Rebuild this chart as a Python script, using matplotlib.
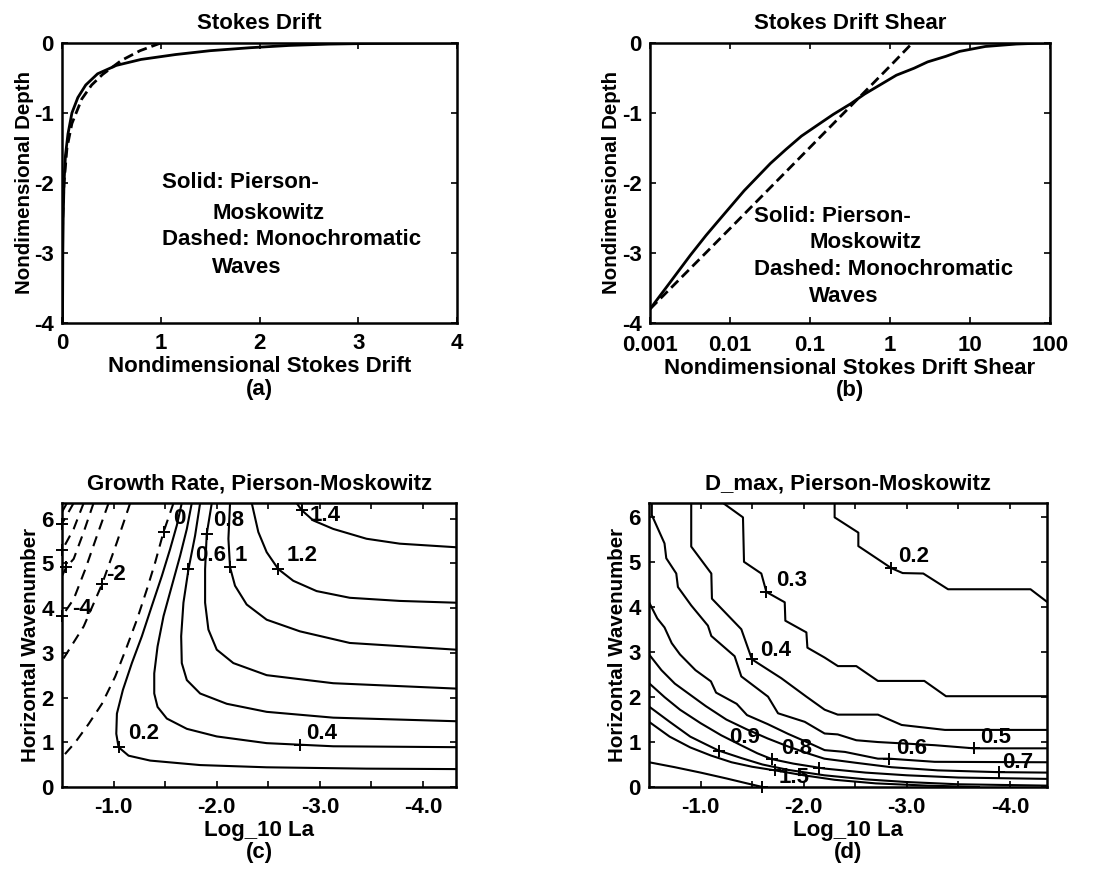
import matplotlib
matplotlib.use("Agg")
import matplotlib.pyplot as plt
from matplotlib.ticker import FixedLocator, NullLocator, FixedFormatter

plt.rcParams['font.family'] = ['Liberation Sans', 'DejaVu Sans']
plt.rcParams['font.weight'] = 'bold'
plt.rcParams['axes.titleweight'] = 'bold'
plt.rcParams['axes.labelweight'] = 'bold'
plt.rcParams['axes.unicode_minus'] = False
FS = 16
FS_Y = 14.8

# ---------------- (a) Stokes drift profiles ----------------
drift_pm_u = [0.005, 0.008, 0.012, 0.02, 0.035, 0.06, 0.10, 0.16, 0.24, 0.36, 0.55,
              0.80, 1.15, 1.5, 1.9, 2.3, 2.7, 3.1, 3.6, 4.0]
drift_pm_z = [-4.0, -3.0, -2.5, -2.0, -1.6, -1.3, -1.0, -0.78, -0.60, -0.44, -0.32,
              -0.235, -0.165, -0.11, -0.068, -0.035, -0.016, -0.007, -0.002, 0.0]
drift_mono_u = [1.0, 0.79, 0.6, 0.41, 0.30, 0.20, 0.10, 0.05, 0.02, 0.007, 0.002, 0.0003]
drift_mono_z = [0.0, -0.11, -0.25, -0.45, -0.60, -0.80, -1.15, -1.50, -2.0, -2.5, -3.0, -4.0]

# ---------------- (b) Stokes drift shear profiles ----------------
shear_pm_s = [0.001, 0.0017, 0.0032, 0.005, 0.0068, 0.015, 0.032, 0.05, 0.078, 0.125,
              0.195, 0.32, 0.48, 1.2, 2.0, 2.95, 5.0, 7.4, 15.5, 38.0, 66.0, 100.0]
shear_pm_z = [-3.8, -3.45, -3.03, -2.75, -2.57, -2.11, -1.72, -1.52, -1.33, -1.17,
              -1.02, -0.87, -0.73, -0.46, -0.36, -0.27, -0.19, -0.12, -0.05, -0.015,
              -0.005, -0.001]
shear_mono_s = [0.001, 0.01, 0.1, 1.0, 1.9]
shear_mono_z = [-3.8, -2.65, -1.49, -0.33, 0.0]

legend_lines = ["Solid: Pierson-", "Moskowitz", "Dashed: Monochromatic", "Waves"]

# ---------------- (c) growth rate contours (Log10 La, wavenumber) ----------------
gr_m12_x = [-0.548, -0.5];                                   gr_m12_y = [6.35, 6.15]
gr_m10_x = [-0.613, -0.5];                                   gr_m10_y = [6.35, 5.89]
gr_m8_x = [-0.710, -0.613, -0.5];                            gr_m8_y = [6.35, 5.77, 5.29]
gr_m6_x = [-0.806, -0.710, -0.613, -0.54, -0.5];             gr_m6_y = [6.35, 5.70, 5.10, 4.91, 4.72]
gr_m4_x = [-0.952, -0.839, -0.726, -0.613, -0.5];            gr_m4_y = [6.35, 5.62, 4.87, 4.20, 3.82]
gr_m2_x = [-1.161, -1.032, -0.887, -0.710, -0.5];            gr_m2_y = [6.35, 5.47, 4.53, 3.59, 2.82]
gr_0_x = [-1.581, -1.484, -1.403, -1.323, -1.226, -1.129, -1.016, -0.887, -0.758, -0.629, -0.5]
gr_0_y = [6.35, 5.70, 5.02, 4.42, 3.74, 3.14, 2.47, 1.86, 1.41, 1.00, 0.66]
gr_02_x = [-1.661, -1.613, -1.548, -1.468, -1.371, -1.274, -1.177, -1.090, -1.032, -1.026,
           -1.048, -1.145, -1.355, -1.839, -2.484, -3.452, -4.32]
gr_02_y = [6.35, 5.85, 5.32, 4.72, 4.05, 3.37, 2.77, 2.17, 1.64, 1.19, 0.89, 0.70, 0.59,
           0.49, 0.44, 0.41, 0.40]
gr_04_x = [-1.758, -1.710, -1.645, -1.565, -1.484, -1.426, -1.394, -1.394, -1.426, -1.516,
           -1.710, -2.000, -2.484, -3.129, -4.32]
gr_04_y = [6.35, 5.77, 5.17, 4.50, 3.82, 3.14, 2.54, 2.09, 1.79, 1.53, 1.30, 1.13, 0.98, 0.91, 0.89]
gr_06_x = [-1.839, -1.790, -1.726, -1.677, -1.655, -1.661, -1.710, -1.839, -2.097, -2.484, -3.129, -4.32]
gr_06_y = [6.35, 5.62, 4.87, 4.12, 3.37, 2.77, 2.39, 2.09, 1.86, 1.68, 1.55, 1.47]
gr_08_x = [-1.952, -1.903, -1.887, -1.887, -1.919, -2.000, -2.161, -2.484, -3.129, -4.32]
gr_08_y = [6.35, 5.66, 4.87, 4.12, 3.52, 3.07, 2.77, 2.50, 2.32, 2.20]
gr_10_x = [-2.129, -2.113, -2.129, -2.177, -2.290, -2.484, -2.806, -3.290, -4.32]
gr_10_y = [6.35, 5.55, 4.91, 4.50, 4.08, 3.74, 3.48, 3.22, 3.07]
gr_12_x = [-2.339, -2.403, -2.484, -2.597, -2.742, -2.968, -3.290, -3.774, -4.32]
gr_12_y = [6.35, 5.70, 5.25, 4.87, 4.61, 4.38, 4.23, 4.16, 4.12]
gr_14_x = [-2.774, -2.823, -2.935, -3.129, -3.452, -3.774, -4.32]
gr_14_y = [6.35, 6.19, 5.96, 5.77, 5.55, 5.44, 5.36]

gr_label_text = ["0", "0.8", "0.6", "1", "1.2", "1.4", "0.2", "0.4", "-2", "-4"]
gr_label_x = [-1.581, -1.968, -1.790, -2.177, -2.677, -2.900, -1.145, -2.871, -0.930, -0.600]
gr_label_y = [6.00, 5.95, 5.17, 5.17, 5.17, 6.07, 1.19, 1.19, 4.76, 4.00]
gr_mark_x = [-1.484, -1.903, -1.726, -2.129, -2.597, -2.823, -1.048, -2.806, -0.887, -0.5, -0.5, -0.5, -0.54]
gr_mark_y = [5.70, 5.66, 4.87, 4.91, 4.87, 6.19, 0.89, 0.94, 4.53, 3.82, 5.89, 5.29, 4.91]

# ---------------- (d) D_max contours ----------------
dm_02_x = [-2.30, -2.30, -2.53, -2.53, -2.85, -2.96, -3.16, -3.40, -4.20, -4.36]
dm_02_y = [6.32, 6.00, 5.66, 5.36, 4.87, 4.76, 4.75, 4.40, 4.40, 4.12]
dm_03_x = [-1.217, -1.411, -1.421, -1.589, -1.638, -1.816, -1.822, -2.026, -2.036, -2.203,
           -2.332, -2.51, -2.72, -3.17, -3.38, -4.36]
dm_03_y = [6.32, 6.00, 5.01, 4.75, 4.34, 4.11, 3.70, 3.44, 3.10, 2.88, 2.69, 2.69, 2.36,
           2.36, 2.02, 2.02]
dm_04_x = [-0.909, -0.909, -1.104, -1.110, -1.395, -1.498, -1.783, -2.026, -2.203, -2.33,
           -2.72, -2.95, -3.37, -4.36]
dm_04_y = [6.32, 5.35, 4.75, 4.19, 3.51, 2.84, 2.42, 2.01, 1.72, 1.61, 1.61, 1.38, 1.27, 1.27]
dm_05_x = [-0.527, -0.527, -0.65, -0.667, -0.764, -0.78, -0.909, -1.071, -1.104, -1.33, -1.395,
           -1.654, -1.751, -2.01, -2.203, -2.33, -2.51, -2.72, -3.27, -3.65, -4.36]
dm_05_y = [6.32, 6.05, 5.42, 5.09, 4.75, 4.45, 4.04, 3.59, 3.36, 2.91, 2.46, 2.01, 1.64,
           1.45, 1.19, 1.17, 1.04, 1.00, 0.93, 0.86, 0.86]
dm_06_x = [-0.5, -0.58, -0.65, -0.72, -0.80, -0.95, -1.10, -1.15, -1.35, -1.45, -1.65, -1.85,
           -2.05, -2.203, -2.40, -2.72, -2.83, -3.27, -4.36]
dm_06_y = [4.11, 3.75, 3.55, 3.20, 2.95, 2.60, 2.35, 2.10, 1.85, 1.60, 1.40, 1.18, 0.98,
           0.82, 0.78, 0.63, 0.63, 0.56, 0.55]
dm_07_x = [-0.5, -0.62, -0.75, -0.9, -1.05, -1.25, -1.45, -1.65, -1.85, -2.05, -2.2, -2.5,
           -2.85, -3.3, -3.89, -4.36]
dm_07_y = [2.95, 2.60, 2.30, 2.05, 1.80, 1.50, 1.28, 1.08, 0.90, 0.74, 0.63, 0.54, 0.44,
           0.37, 0.33, 0.32]
dm_08_x = [-0.5, -0.65, -0.8, -1.0, -1.2, -1.4, -1.55, -1.69, -1.9, -2.2, -2.6, -3.0, -3.5, -4.36]
dm_08_y = [2.31, 2.00, 1.72, 1.42, 1.15, 0.92, 0.75, 0.62, 0.52, 0.41, 0.32, 0.26, 0.21, 0.18]
dm_09_x = [-0.5, -0.7, -0.9, -1.05, -1.175, -1.4, -1.6, -1.85, -2.2, -2.6, -3.0, -3.5, -4.36]
dm_09_y = [1.79, 1.45, 1.12, 0.95, 0.81, 0.64, 0.50, 0.38, 0.26, 0.17, 0.11, 0.06, 0.03]
dm_15_x = [-0.5, -0.7, -0.9, -1.1, -1.3, -1.5, -1.72, -2.0, -2.3, -2.7, -3.2, -3.7]
dm_15_y = [1.45, 1.12, 0.88, 0.70, 0.55, 0.45, 0.37, 0.26, 0.16, 0.08, 0.03, 0.0]
dm_20_x = [-0.5, -0.75, -1.0, -1.25, -1.45, -1.6]
dm_20_y = [0.55, 0.44, 0.32, 0.19, 0.08, 0.0]

dm_label_text = ["0.2", "0.3", "0.4", "0.9", "0.8", "1.5", "0.6", "0.5", "0.7"]
dm_label_x = [-2.916, -1.728, -1.576, -1.280, -1.780, -1.760, -2.900, -3.710, -3.920]
dm_label_y = [5.12, 4.60, 3.03, 1.11, 0.86, 0.22, 0.85, 1.11, 0.55]
dm_mark_x = [-2.85, -1.638, -1.498, -1.175, -1.69, -1.72, -2.83, -3.65, -3.89, -2.15, -1.6]
dm_mark_y = [4.87, 4.34, 2.84, 0.81, 0.62, 0.37, 0.63, 0.86, 0.33, 0.43, 0.0]

la_ticks = [-1.0, -1.5, -2.0, -2.5, -3.0, -3.5, -4.0]
la_ticklabels = ["-1.0", "", "-2.0", "", "-3.0", "", "-4.0"]
k_ticks = [0, 1, 2, 3, 4, 5, 6]


def frame(ax, xpad=7):
    for s in ax.spines.values():
        s.set_linewidth(1.8)
    ax.tick_params(which='both', direction='in', length=4, width=1.2, top=True,
                   right=True, labelsize=FS, pad=6)
    ax.tick_params(axis='x', pad=xpad)


fig = plt.figure(figsize=(10.96, 8.72), dpi=100)
ax_a = fig.add_axes([0.0566, 0.6296, 0.3604, 0.3211])
ax_b = fig.add_axes([0.5931, 0.6296, 0.3650, 0.3211])
ax_c = fig.add_axes([0.0566, 0.0975, 0.3595, 0.3257])
ax_d = fig.add_axes([0.5922, 0.0975, 0.3631, 0.3257])

# (a)
ax_a.plot(drift_pm_u, drift_pm_z, color='k', lw=2.0)
ax_a.plot(drift_mono_u, drift_mono_z, color='k', lw=2.0, dashes=(3.6, 1.8))
ax_a.set_xlim(0, 4)
ax_a.set_ylim(-4, 0)
ax_a.set_xticks([0, 1, 2, 3, 4])
ax_a.set_yticks([-4, -3, -2, -1, 0])
ax_a.set_title("Stokes Drift", fontsize=FS, pad=10)
ax_a.set_xlabel("Nondimensional Stokes Drift", fontsize=FS, labelpad=2)
ax_a.set_ylabel("Nondimensional Depth", fontsize=FS_Y, labelpad=0)
frame(ax_a)

# (b)
ax_b.plot(shear_pm_s, shear_pm_z, color='k', lw=2.0)
ax_b.plot(shear_mono_s, shear_mono_z, color='k', lw=2.0, dashes=(3.6, 1.8))
ax_b.set_xscale('log')
ax_b.set_xlim(1e-3, 1e2)
ax_b.set_ylim(-4, 0)
ax_b.xaxis.set_major_locator(FixedLocator([1e-3, 1e-2, 1e-1, 1, 10, 100]))
ax_b.xaxis.set_major_formatter(FixedFormatter(["0.001", "0.01", "0.1", "1", "10", "100"]))
ax_b.xaxis.set_minor_locator(NullLocator())
ax_b.set_yticks([-4, -3, -2, -1, 0])
ax_b.set_title("Stokes Drift Shear", fontsize=FS, pad=10)
ax_b.set_xlabel("Nondimensional Stokes Drift Shear", fontsize=FS, labelpad=1)
ax_b.set_ylabel("Nondimensional Depth", fontsize=FS_Y, labelpad=1)
frame(ax_b, xpad=9)

for ax, xs, ys in ((ax_a, [0.2525, 0.38, 0.2525, 0.38], [0.50, 0.3925, 0.2975, 0.1975]),
                   (ax_b, [0.26, 0.3975, 0.26, 0.3975], [0.38, 0.287, 0.19, 0.093])):
    for s, x, y in zip(legend_lines, xs, ys):
        ax.text(x, y, s, transform=ax.transAxes, ha='left', va='center', fontsize=FS)

# (c)
gr_solid = [(gr_02_x, gr_02_y), (gr_04_x, gr_04_y), (gr_06_x, gr_06_y), (gr_08_x, gr_08_y),
            (gr_10_x, gr_10_y), (gr_12_x, gr_12_y), (gr_14_x, gr_14_y)]
gr_dashed = [(gr_0_x, gr_0_y), (gr_m2_x, gr_m2_y), (gr_m4_x, gr_m4_y), (gr_m6_x, gr_m6_y),
             (gr_m8_x, gr_m8_y), (gr_m10_x, gr_m10_y), (gr_m12_x, gr_m12_y)]
for xs, ys in gr_solid:
    ax_c.plot(xs, ys, color='k', lw=1.5)
for xs, ys in gr_dashed:
    ax_c.plot(xs, ys, color='k', lw=1.5, dashes=(5, 3.5))
ax_c.plot(gr_mark_x, gr_mark_y, '+', color='k', ms=9, mew=1.4, clip_on=False)
for s, x, y in zip(gr_label_text, gr_label_x, gr_label_y):
    ax_c.text(x, y, s, ha='left', va='center', fontsize=FS)
ax_c.set_xlim(-0.5, -4.32)
ax_c.set_ylim(0, 6.35)
ax_c.set_title("Growth Rate, Pierson-Moskowitz", fontsize=FS, pad=10)

# (d)
dm_lines = [(dm_02_x, dm_02_y), (dm_03_x, dm_03_y), (dm_04_x, dm_04_y), (dm_05_x, dm_05_y),
            (dm_06_x, dm_06_y), (dm_07_x, dm_07_y), (dm_08_x, dm_08_y), (dm_09_x, dm_09_y),
            (dm_15_x, dm_15_y), (dm_20_x, dm_20_y)]
for xs, ys in dm_lines:
    ax_d.plot(xs, ys, color='k', lw=1.5)
ax_d.plot(dm_mark_x, dm_mark_y, '+', color='k', ms=9, mew=1.4, clip_on=False)
for s, x, y in zip(dm_label_text, dm_label_x, dm_label_y):
    ax_d.text(x, y, s, ha='left', va='center', fontsize=FS)
ax_d.set_xlim(-0.5, -4.36)
ax_d.set_ylim(0, 6.32)
ax_d.set_title("D_max, Pierson-Moskowitz", fontsize=FS, pad=10)

for ax in (ax_c, ax_d):
    ax.xaxis.set_major_locator(FixedLocator(la_ticks))
    ax.xaxis.set_major_formatter(FixedFormatter(la_ticklabels))
    ax.set_yticks(k_ticks)
    ax.set_xlabel("Log_10 La", fontsize=FS, labelpad=2)
    ax.set_ylabel("Horizontal Wavenumber", fontsize=FS_Y, labelpad=1)
    frame(ax)

for ax, tag, yy in ((ax_a, "(a)", -0.236), (ax_b, "(b)", -0.24),
                    (ax_c, "(c)", -0.232), (ax_d, "(d)", -0.232)):
    ax.text(0.5, yy, tag, transform=ax.transAxes, ha='center', va='center', fontsize=FS)

fig.savefig("out.png", dpi=100)
